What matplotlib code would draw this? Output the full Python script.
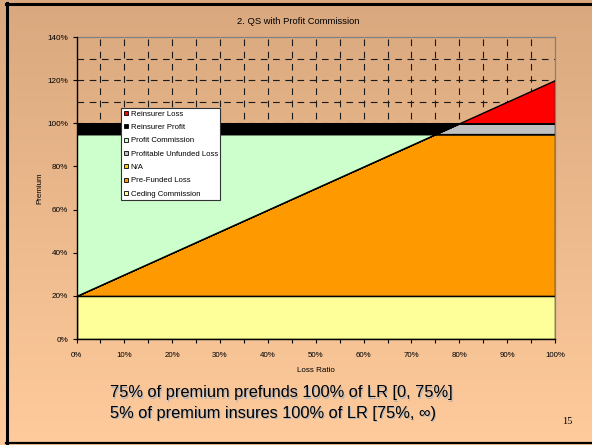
import matplotlib
matplotlib.use("Agg")
import matplotlib.pyplot as plt
import numpy as np
from matplotlib.lines import Line2D
from matplotlib.colors import LinearSegmentedColormap

plt.rcParams['font.family'] = ['Liberation Sans', 'DejaVu Sans']

# ---- data ----
loss_ratio = [0, 75, 80, 100]
ceding_commission = [20, 20, 20, 20]
prefunded_loss = [0, 75, 75, 75]
not_applicable = [0, 0, 0, 0]
profitable_unfunded_loss = [0, 0, 5, 5]
profit_commission = [75, 0, 0, 0]
reinsurer_profit = [5, 5, 0, 0]
reinsurer_loss = [0, 0, 0, 20]

series_labels = ["Ceding Commission", "Pre-Funded Loss", "N/A",
                 "Profitable Unfunded Loss", "Profit Commission",
                 "Reinsurer Profit", "Reinsurer Loss"]
series_colors = ["#ffff99", "#ff9900", "#ffcc00", "#c0c0c0",
                 "#ccffcc", "#000000", "#ff0000"]

y_ticks = [0, 20, 40, 60, 80, 100, 120, 140]
x_ticks = [0, 10, 20, 30, 40, 50, 60, 70, 80, 90, 100]

title = "2. QS with Profit Commission"
note_lines = ["75% of premium prefunds 100% of LR [0, 75%]",
              "5% of premium insures 100% of LR [75%, \u221e)"]
page_number = "15"

W, H = 592, 445
fig = plt.figure(figsize=(W / 100, H / 100), dpi=100)

# slide background gradient
bg = fig.add_axes([0, 0, 1, 1], zorder=-10)
cmap = LinearSegmentedColormap.from_list("bg", ["#d9a87e", "#ffcb9c"])
grad = np.linspace(0, 1, 256).reshape(-1, 1)
bg.imshow(grad, cmap=cmap, aspect="auto", extent=[0, 1, 0, 1], origin="upper")
bg.set_xlim(0, 1); bg.set_ylim(0, 1)
bg.axis("off")

# slide border
fig.add_artist(Line2D([7 / W, 7 / W], [1 - 3 / H, 1 - 443 / H], color="black", lw=2.2, transform=fig.transFigure))
fig.add_artist(Line2D([6 / W, 1], [1 - 4 / H, 1 - 4 / H], color="black", lw=2.2, transform=fig.transFigure))
fig.add_artist(Line2D([6 / W, 1], [1 - 443 / H, 1 - 443 / H], color="black", lw=1.6, transform=fig.transFigure))

left, right, top, bottom = 76.5, 555, 37, 339
ax = fig.add_axes([left / W, 1 - bottom / H, (right - left) / W, (bottom - top) / H])
ax.set_facecolor("none")

# dashed grid
grid_kw = dict(color="#1a1a1a", lw=0.8, linestyle=(0, (6, 5)), zorder=0)
for gx in range(5, 100, 5):
    ax.axvline(gx, **grid_kw)
for gy in range(10, 140, 10):
    ax.axhline(gy, **grid_kw)

stacks = [ceding_commission, prefunded_loss, not_applicable,
          profitable_unfunded_loss, profit_commission,
          reinsurer_profit, reinsurer_loss]
polys = ax.stackplot(loss_ratio, *stacks, colors=series_colors,
                     labels=series_labels, edgecolor="black",
                     linewidth=1.0, zorder=2)

ax.set_xlim(0, 100)
ax.set_ylim(0, 140)
ax.set_xticks(x_ticks)
ax.set_xticks(range(5, 100, 10), minor=True)
ax.set_xticklabels([f"{v}%" for v in x_ticks])
ax.set_yticks(y_ticks)
ax.set_yticklabels([f"{v}%" for v in y_ticks])
ax.tick_params(axis="both", which="both", direction="out", length=3,
               width=0.8, colors="black")
ax.tick_params(axis="x", pad=6.5, labelsize=5.7)
ax.tick_params(axis="y", pad=3, labelsize=5.9)

for s in ["left", "bottom"]:
    ax.spines[s].set_color("black")
    ax.spines[s].set_linewidth(1.0)
    ax.spines[s].set_zorder(5)
for s in ["top", "right"]:
    ax.spines[s].set_color("#808080")
    ax.spines[s].set_linewidth(0.9)

ax.set_xlabel("Loss Ratio", fontsize=5.8, labelpad=5.5)
ax.set_ylabel("Premium", fontsize=5.8, labelpad=2.5)
fig.text(298 / W, 1 - 22 / H, title, fontsize=6.75, ha="center", va="center")

# legend (top of stack first)
handles = [Line2D([], [], marker="s", linestyle="none", markersize=3.4,
                  markerfacecolor=c, markeredgecolor="black", markeredgewidth=0.6)
           for c in series_colors][::-1]
leg = ax.legend(handles, series_labels[::-1], loc="upper left",
                bbox_to_anchor=((121 - left) / (right - left), (bottom - 108) / (bottom - top)),
                borderaxespad=0, fontsize=5.55, frameon=True, fancybox=False,
                handlelength=0.6, handletextpad=0.35, labelspacing=0.77,
                borderpad=0.3, edgecolor="#333333", framealpha=1)
leg.get_frame().set_linewidth(0.8)
leg.set_zorder(10)

# notes with shadow
for i, line in enumerate(note_lines):
    y = 393 + i * 20.5
    fig.text(111.2 / W, 1 - (y + 1.2) / H, line, fontsize=11.8, color="#a9b4c2",
             ha="left", va="center")
    fig.text(110 / W, 1 - y / H, line, fontsize=11.8, color="black",
             ha="left", va="center")

fig.text(567 / W, 1 - 421 / H, page_number, fontsize=7.5, ha="center", va="center",
         family=["Liberation Serif", "DejaVu Serif"])

fig.savefig("out.png", dpi=100)
